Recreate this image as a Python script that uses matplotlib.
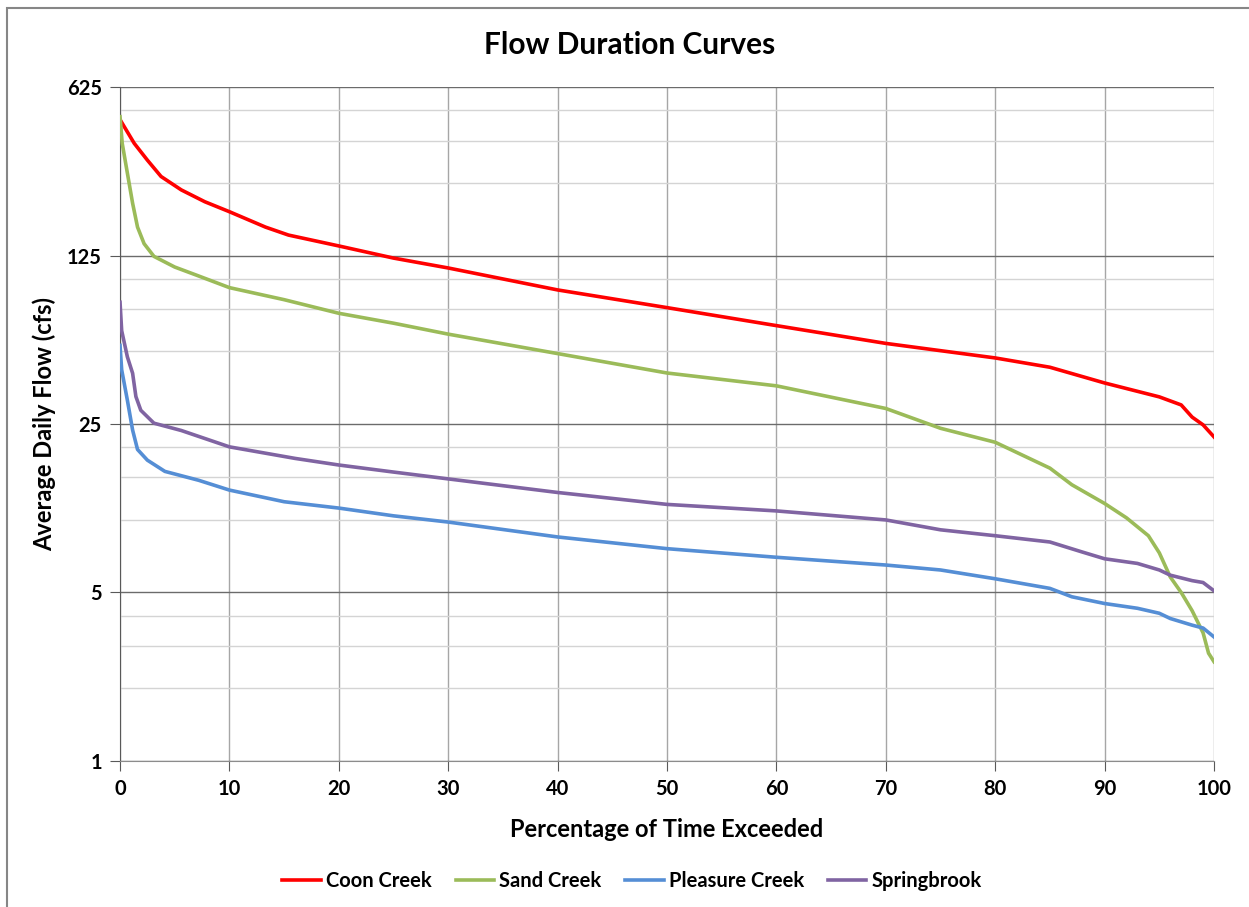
import numpy as np
import matplotlib.pyplot as plt
from matplotlib.patches import Rectangle
from matplotlib.ticker import FixedLocator, NullFormatter

plt.rcParams['font.family'] = ['Lato', 'DejaVu Sans']

# Flow duration curves (percent exceeded vs cfs)
coon_pct = [0, 0.4, 1.3, 2.5, 3.75, 5.6, 7.75, 10, 13.3, 15.4, 20, 25, 30, 40, 50, 60, 70, 80, 85, 90,
            95, 97, 98, 99, 100]
coon_flow = [458, 427, 365, 311, 266, 234, 209, 190, 164, 152, 137, 122, 111, 90, 76, 64, 54, 47, 43, 37,
             32.4, 30, 26.7, 24.8, 22.1]

sand_pct = [0, 0.2, 0.67, 1.15, 1.6, 2.2, 3.1, 5, 6.9, 10, 15, 20, 25, 30, 40, 50, 60, 70, 75, 80, 85,
            87, 90, 92, 94, 95, 96, 97, 98, 99, 99.5, 100]
sand_flow = [471, 365, 275, 206, 164, 140, 124, 112, 104, 92, 82, 72, 65.5, 59, 49, 40.7, 36, 29, 24, 21,
             16.4, 14, 11.7, 10.2, 8.6, 7.3, 5.8, 5.0, 4.2, 3.4, 2.8, 2.58]

pleasure_pct = [0, 0.15, 0.67, 1.15, 1.6, 2.5, 4.1, 7.2, 10, 15, 20, 25, 30, 40, 50, 60, 70, 75,
                80, 85, 87, 90, 93, 95, 96, 98, 99, 100]
pleasure_flow = [53, 42, 31.4, 23.6, 19.6, 17.7, 15.9, 14.6, 13.3, 11.9, 11.2, 10.4, 9.8,
                 8.5, 7.6, 7.0, 6.5, 6.2, 5.7, 5.2, 4.8, 4.5, 4.3, 4.1, 3.9, 3.66, 3.56, 3.27]

spring_pct = [0, 0.15, 0.67, 1.15, 1.45, 1.9, 3.1, 5.6, 10, 16, 20, 25, 30, 40, 50, 60, 70, 75,
              80, 85, 88, 90, 93, 95, 96, 98, 99, 100]
spring_flow = [80, 61, 47.5, 40.6, 32.5, 28.5, 25.2, 23.5, 20.1, 18, 16.9, 15.8, 14.8,
               13, 11.6, 10.9, 10, 9.1, 8.6, 8.1, 7.35, 6.9, 6.6, 6.2, 5.9, 5.6, 5.5, 5.08]

y_ticks = [1, 5, 25, 125, 625]
x_ticks = [0, 10, 20, 30, 40, 50, 60, 70, 80, 90, 100]

fig = plt.figure(figsize=(12.49, 9.07), dpi=100)
ax = fig.add_axes([0.0961, 0.161, 0.8759, 0.743])

ax.plot(coon_pct, coon_flow, color='#FF0000', lw=2.6, label='Coon Creek', zorder=3)
ax.plot(sand_pct, sand_flow, color='#9BBB59', lw=2.6, label='Sand Creek', zorder=3)
ax.plot(pleasure_pct, pleasure_flow, color='#558ED5', lw=2.6, label='Pleasure Creek', zorder=3)
ax.plot(spring_pct, spring_flow, color='#8064A2', lw=2.6, label='Springbrook', zorder=3)

ax.set_yscale('log', base=5)
ax.set_ylim(1, 625)
ax.set_xlim(0, 100)
ax.yaxis.set_major_locator(FixedLocator(y_ticks))
ax.set_yticklabels([str(v) for v in y_ticks])
minor = [m * 5 ** k for k in range(4) for m in (2, 3, 4)]
ax.yaxis.set_minor_locator(FixedLocator(minor))
ax.yaxis.set_minor_formatter(NullFormatter())
ax.set_xticks(x_ticks)

ax.grid(True, which='major', axis='y', color='#6b6b6b', lw=1.0)
ax.grid(True, which='minor', axis='y', color='#d4d4d4', lw=1.0)
ax.grid(True, which='major', axis='x', color='#a6a6a6', lw=1.0)
ax.set_axisbelow(True)

for s in ['top', 'right']:
    ax.spines[s].set_visible(False)
ax.spines['left'].set_color('#595959')
ax.spines['bottom'].set_color('#8c8c8c')
ax.tick_params(axis='both', which='major', length=7, color='#595959', labelsize=14.5, pad=6)
ax.tick_params(axis='y', which='minor', length=0)
for lbl in ax.get_xticklabels() + ax.get_yticklabels():
    lbl.set_fontweight('bold')

ax.set_xlabel('Percentage of Time Exceeded', fontsize=17, fontweight='bold')
ax.xaxis.set_label_coords(0.5, -0.085)
ax.set_ylabel('Average Daily Flow (cfs)', fontsize=17, fontweight='bold')
ax.yaxis.set_label_coords(-0.058, 0.5)
fig.text(0.5045, 0.950, 'Flow Duration Curves', ha='center', va='center', fontsize=21.5, fontweight='bold')

leg = fig.legend(loc='center', bbox_to_anchor=(0.506, 0.029), ncol=4, frameon=False,
                 prop={'size': 14.5, 'weight': 'bold'}, handlelength=1.9, handletextpad=0.25,
                 columnspacing=1.2)

# chart frame
fig.patches.append(Rectangle((7 / 1249, -0.1), 1.2, 1.1 - 8 / 907, transform=fig.transFigure,
                             fill=False, edgecolor='#868686', lw=1.5))

fig.savefig('out.png', dpi=100)
